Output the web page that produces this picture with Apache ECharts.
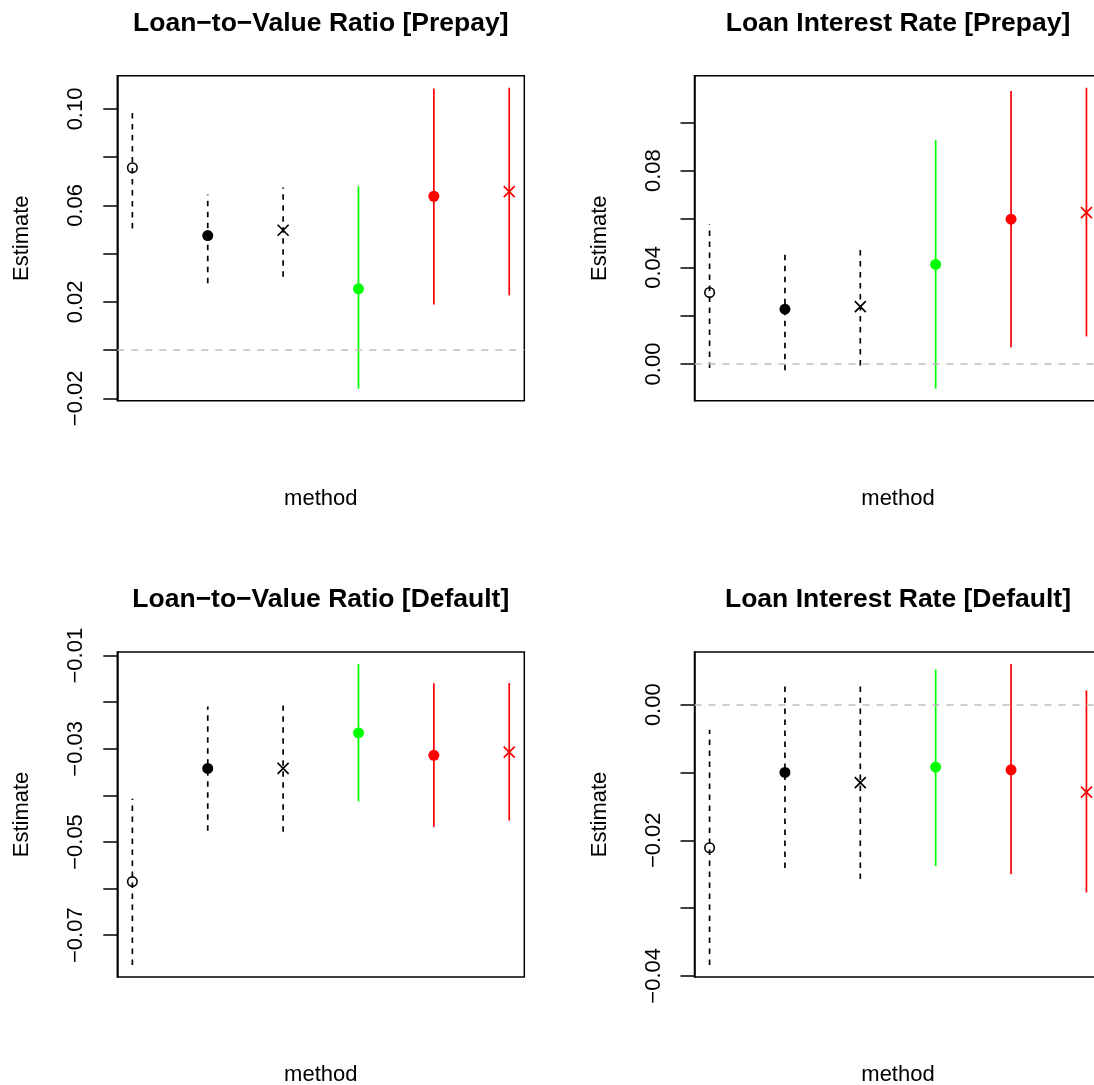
<!DOCTYPE html>
<html>
<head>
<meta charset="utf-8">
<title>Estimates by method</title>
<script src="https://cdn.jsdelivr.net/npm/echarts@6.0.0/dist/echarts.min.js"></script>
<style>
  html, body { margin: 0; padding: 0; background: #fff; }
  #chart { width: 1094px; height: 1085px; }
</style>
</head>
<body>
<div id="chart"></div>
<script>
// x position of each method (the x axis carries no labels)
const methods = [1, 2, 3, 4, 5, 6];

const titles = [
  'Loan−to−Value Ratio [Prepay]',
  'Loan Interest Rate [Prepay]',
  'Loan−to−Value Ratio [Default]',
  'Loan Interest Rate [Default]'
];

// estimates and interval ends
const ltvPrepayEst = [0.0756, 0.0475, 0.0497, 0.0254, 0.0638, 0.0657];
const ltvPrepayLo  = [0.0504, 0.0277, 0.0304, -0.0160, 0.0189, 0.0227];
const ltvPrepayHi  = [0.0988, 0.0645, 0.0674, 0.0679, 0.1085, 0.1088];

const lirPrepayEst = [0.0296, 0.0227, 0.0237, 0.0412, 0.0599, 0.0626];
const lirPrepayLo  = [-0.0017, -0.0026, -0.0006, -0.0102, 0.0069, 0.0114];
const lirPrepayHi  = [0.0577, 0.0456, 0.0472, 0.0927, 0.1129, 0.1143];

const ltvDefaultEst = [-0.0585, -0.0342, -0.0342, -0.0266, -0.0314, -0.0307];
const ltvDefaultLo  = [-0.0764, -0.0476, -0.0478, -0.0413, -0.0468, -0.0454];
const ltvDefaultHi  = [-0.0407, -0.0209, -0.0207, -0.0118, -0.0159, -0.0159];

const lirDefaultEst = [-0.0211, -0.0100, -0.0115, -0.0092, -0.0096, -0.0129];
const lirDefaultLo  = [-0.0384, -0.0241, -0.0257, -0.0238, -0.0250, -0.0277];
const lirDefaultHi  = [-0.0037, 0.0032, 0.0028, 0.0052, 0.0060, 0.0021];

// y ticks and the labels that R kept
const ltvPrepayTicks  = [-0.02, 0, 0.02, 0.04, 0.06, 0.08, 0.10];
const ltvPrepayLabels = [-0.02, 0.02, 0.06, 0.10];
const lirPrepayTicks  = [0, 0.02, 0.04, 0.06, 0.08, 0.10];
const lirPrepayLabels = [0, 0.04, 0.08];
const ltvDefaultTicks  = [-0.07, -0.06, -0.05, -0.04, -0.03, -0.02, -0.01];
const ltvDefaultLabels = [-0.07, -0.05, -0.03, -0.01];
const lirDefaultTicks  = [-0.04, -0.03, -0.02, -0.01, 0];
const lirDefaultLabels = [-0.04, -0.02, 0];

// styles
const FONT = '"Liberation Sans", Arial, Helvetica, sans-serif';
const methodColor = ['#000000', '#000000', '#000000', '#00ff00', '#ff0000', '#ff0000'];
const methodDashed = [true, true, true, false, false, false];
const methodMark = ['open', 'dot', 'cross', 'dot', 'dot', 'cross'];
const crossPath = 'path://M0,0L10,10M0,10L10,0';

const panels = [
  { est: ltvPrepayEst, lo: ltvPrepayLo, hi: ltvPrepayHi, ticks: ltvPrepayTicks, labels: ltvPrepayLabels, left: 117.3, top: 75.7 },
  { est: lirPrepayEst, lo: lirPrepayLo, hi: lirPrepayHi, ticks: lirPrepayTicks, labels: lirPrepayLabels, left: 694.5, top: 75.7 },
  { est: ltvDefaultEst, lo: ltvDefaultLo, hi: ltvDefaultHi, ticks: ltvDefaultTicks, labels: ltvDefaultLabels, left: 117.3, top: 652 },
  { est: lirDefaultEst, lo: lirDefaultLo, hi: lirDefaultHi, ticks: lirDefaultTicks, labels: lirDefaultLabels, left: 694.5, top: 652 }
];
const W = 407, H = 325;

const fmt = v => (Math.abs(v) < 1e-9 ? '0.00' : v.toFixed(2)).replace('-', '\u2212');
const txt = { fontFamily: FONT, fontSize: 22, color: '#000' };

const grid = [], xAxis = [], yAxis = [], series = [], title = [];

panels.forEach((p, k) => {
  // R style range: data range stretched by 4% each side
  const lo = Math.min(...p.lo), hi = Math.max(...p.hi);
  const pad = (hi - lo) * 0.04;
  const ymin = lo - pad, ymax = hi + pad;

  title.push({
    text: titles[k], left: p.left + W / 2, top: p.top - 66, textAlign: 'center', padding: 0,
    textStyle: { fontFamily: FONT, fontSize: 26.5, fontWeight: 'bold', color: '#000' }
  });
  // the right column runs past the page edge, as in the original
  grid.push({ left: p.left, top: p.top, width: W, height: H, show: true, outerBoundsMode: 'none',
    borderColor: '#000', borderWidth: 1.5, backgroundColor: 'transparent' });
  xAxis.push({
    type: 'value', gridIndex: k, min: 0.8, max: 6.2,
    axisLine: { show: false }, axisTick: { show: false }, axisLabel: { show: false }, splitLine: { show: false },
    name: 'method', nameLocation: 'middle', nameGap: 87, nameTextStyle: txt
  });
  yAxis.push({
    type: 'value', gridIndex: k, min: ymin, max: ymax,
    axisLine: { show: true, lineStyle: { color: '#000', width: 1.5 } },
    axisTick: { show: true, length: 14, customValues: p.ticks, lineStyle: { color: '#000', width: 1.5 } },
    axisLabel: { customValues: p.labels, rotate: 90, margin: 30, formatter: fmt, ...txt },
    splitLine: { show: false },
    name: 'Estimate', nameLocation: 'middle', nameGap: 84, nameTextStyle: txt
  });

  if (ymin < 0 && ymax > 0) {
    series.push({
      type: 'line', xAxisIndex: k, yAxisIndex: k, data: [], z: 1, silent: true,
      markLine: { silent: true, symbol: ['none', 'none'], label: { show: false },
        lineStyle: { color: '#bebebe', type: [7, 7], width: 1.5 }, data: [{ yAxis: 0 }] }
    });
  }

  series.push({
    type: 'custom', xAxisIndex: k, yAxisIndex: k, z: 2, silent: true,
    data: methods.map((m, i) => [m, p.lo[i], p.hi[i], i]),
    encode: { x: 0, y: [1, 2] },
    renderItem: (params, api) => {
      const i = api.value(3);
      const a = api.coord([api.value(0), api.value(1)]);
      const b = api.coord([api.value(0), api.value(2)]);
      return {
        type: 'line',
        shape: { x1: a[0], y1: a[1], x2: b[0], y2: b[1] },
        style: { stroke: methodColor[i], lineWidth: 1.7, lineDash: methodDashed[i] ? [5.5, 5.5] : null }
      };
    }
  });

  series.push({
    type: 'scatter', xAxisIndex: k, yAxisIndex: k, z: 3, silent: true,
    data: methods.map((m, i) => {
      const c = methodColor[i];
      if (methodMark[i] === 'open') {
        return { value: [m, p.est[i]], symbol: 'circle', symbolSize: 9.5,
          itemStyle: { color: 'transparent', borderColor: c, borderWidth: 1.6, opacity: 1 } };
      }
      if (methodMark[i] === 'cross') {
        return { value: [m, p.est[i]], symbol: crossPath, symbolSize: 11,
          itemStyle: { color: 'transparent', borderColor: c, borderWidth: 1.7, opacity: 1 } };
      }
      return { value: [m, p.est[i]], symbol: 'circle', symbolSize: 11, itemStyle: { color: c, opacity: 1 } };
    })
  });
});

const chart = echarts.init(document.getElementById('chart'), null, { renderer: 'canvas' });
chart.setOption({ animation: false, backgroundColor: '#fff', title, grid, xAxis, yAxis, series });
</script>
</body>
</html>
